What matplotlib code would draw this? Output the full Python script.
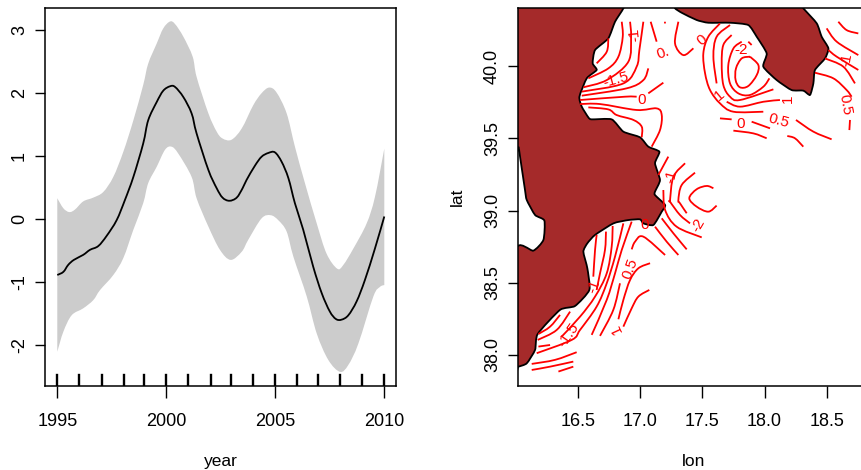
import numpy as np
import matplotlib
matplotlib.use('Agg')
import matplotlib.pyplot as plt
from matplotlib.patches import PathPatch
from matplotlib.path import Path

plt.rcParams['font.family'] = ['Liberation Sans', 'DejaVu Sans']
plt.rcParams['axes.unicode_minus'] = False

# left panel: smooth of year
line_year = [1995, 1995.28, 1995.5, 1995.76, 1996.19, 1996.5, 1996.88, 1997.26, 1997.72, 1998.1, 1998.49, 1998.94,
             1999.17, 1999.56, 1999.86, 2000.17, 2000.4, 2000.78, 2001.16, 2001.39, 2001.93, 2002.31, 2002.58, 2002.89,
             2003.23, 2003.5, 2003.68, 2004.07, 2004.37, 2004.68, 2004.98, 2005.29, 2005.6, 2005.9, 2006.28, 2006.74,
             2007.13, 2007.5, 2007.78, 2008.04, 2008.35, 2008.73, 2009.11, 2009.57, 2010]
line_val = [-0.89, -0.84, -0.73, -0.65, -0.57, -0.49, -0.43, -0.27, -0.02, 0.30, 0.67, 1.20,
            1.57, 1.86, 2.04, 2.11, 2.10, 1.94, 1.68, 1.36, 0.78, 0.49, 0.34, 0.29,
            0.34, 0.49, 0.62, 0.85, 0.99, 1.05, 1.06, 0.91, 0.65, 0.25, -0.17, -0.76,
            -1.18, -1.47, -1.59, -1.60, -1.53, -1.31, -0.97, -0.47, 0.04]
upper_year = [1995, 1995.28, 1995.55, 1995.81, 1996.19, 1996.65, 1997.11, 1997.57, 1998.03, 1998.49, 1998.94, 1999.17,
              1999.56, 1999.86, 2000.17, 2000.4, 2000.78, 2001.21, 2001.39, 2001.93, 2002.31, 2002.58, 2002.99, 2003.46,
              2003.99, 2004.37, 2004.72, 2005.06, 2005.52, 2005.9, 2006.36, 2006.9, 2007.35, 2007.84, 2008.12, 2008.58,
              2009.19, 2009.57, 2010]
upper_val = [0.33, 0.17, 0.11, 0.15, 0.28, 0.34, 0.43, 0.67, 1.07, 1.57, 2.13, 2.47,
             2.79, 3.03, 3.14, 3.10, 2.90, 2.58, 2.26, 1.68, 1.39, 1.28, 1.26, 1.44,
             1.81, 2.00, 2.09, 2.01, 1.68, 1.15, 0.57, -0.07, -0.55, -0.79, -0.73, -0.47,
             -0.07, 0.35, 1.12]
lower_year = [1995, 1995.28, 1995.66, 1996.19, 1996.65, 1996.96, 1997.57, 1998.03, 1998.49, 1998.94, 1999.17, 1999.56,
              1999.94, 2000.24, 2000.55, 2001.16, 2001.39, 2001.93, 2002.46, 2002.95, 2003.46, 2003.76, 2004.37, 2004.79,
              2005.14, 2005.52, 2005.83, 2006.44, 2006.9, 2007.43, 2007.97, 2008.35, 2008.81, 2009.5, 2009.8, 2010]
lower_val = [-2.11, -1.79, -1.53, -1.42, -1.29, -1.13, -0.89, -0.62, -0.17, 0.25, 0.57, 0.83,
             1.10, 1.15, 1.04, 0.67, 0.33, -0.12, -0.49, -0.65, -0.52, -0.33, 0.01, 0.06,
             -0.02, -0.20, -0.60, -1.23, -1.82, -2.24, -2.43, -2.32, -1.98, -1.23, -1.08, -1.05]
rug_years = [1995, 1996.01, 1997.03, 1998.06, 1998.99, 1999.98, 2001.01, 2002.03, 2002.95, 2003.99, 2005, 2006.01,
             2006.94, 2007.97, 2008.99, 2010]

# right panel: coastlines as (lon, lat)
land_west = [(16.0, 40.45), (16.863, 40.45), (16.863, 40.40), (16.796, 40.307), (16.742, 40.192), (16.635, 40.111),
             (16.616, 40.019), (16.648, 39.973), (16.568, 39.915), (16.509, 39.788), (16.528, 39.719), (16.581, 39.645),
             (16.608, 39.631), (16.769, 39.631), (16.863, 39.546), (16.997, 39.507), (17.064, 39.442), (17.153, 39.407),
             (17.118, 39.327), (17.158, 39.211), (17.118, 39.131), (17.118, 39.107), (17.199, 39.038), (17.172, 38.992),
             (17.105, 38.900), (17.024, 38.911), (16.997, 38.939), (16.903, 38.934), (16.783, 38.911), (16.635, 38.831),
             (16.573, 38.773), (16.541, 38.715), (16.573, 38.600), (16.589, 38.450), (16.474, 38.339), (16.353, 38.312),
             (16.173, 38.145), (16.152, 38.035), (16.085, 37.942), (16.018, 37.919), (16.0, 37.919), (16.0, 38.727),
             (16.138, 38.722), (16.219, 38.796), (16.227, 38.930), (16.152, 38.969), (16.085, 39.073), (16.071, 39.142),
             (16.031, 39.373), (16.018, 39.442), (16.0, 39.442)]
land_east = [(17.25, 40.45), (17.279, 40.40), (17.333, 40.369), (17.453, 40.319), (17.547, 40.300), (17.722, 40.300),
             (17.869, 40.284), (17.937, 40.203), (18.017, 40.088), (17.990, 39.996), (18.098, 39.903), (18.218, 39.834),
             (18.312, 39.830), (18.366, 39.800), (18.393, 39.880), (18.406, 39.973), (18.487, 40.053), (18.514, 40.123),
             (18.460, 40.203), (18.420, 40.296), (18.312, 40.400), (18.27, 40.45)]

# contour pieces, broken where R put its labels
contours_north = [
    [(16.742, 40.192), (16.729, 40.099), (16.648, 40.019)],
    [(16.850, 40.307), (16.858, 40.203), (16.823, 40.065), (16.742, 39.984), (16.581, 39.915)],
    [(16.917, 40.307), (16.925, 40.203), (16.903, 40.030), (16.729, 39.903), (16.541, 39.853)],
    [(17.024, 40.307), (16.992, 40.111), (16.970, 39.996), (16.863, 39.880), (16.528, 39.823)],
    [(17.083, 40.307), (17.131, 40.169)],
    [(17.064, 39.984), (17.024, 39.903), (16.890, 39.846), (16.528, 39.795)],
    [(17.185, 39.885), (17.064, 39.811)],
    [(16.970, 39.788), (16.876, 39.788), (16.514, 39.765)],
    [(16.514, 39.737), (16.675, 39.737), (16.970, 39.696), (17.131, 39.707), (17.172, 39.661), (17.158, 39.557),
     (17.091, 39.442)],
    [(16.581, 39.714), (16.742, 39.700), (16.809, 39.661), (16.944, 39.627), (17.011, 39.580), (17.011, 39.507)],
    [(17.306, 40.307), (17.279, 40.157), (17.346, 40.076), (17.427, 40.123)],
    [(17.198, 40.307), (17.198, 40.295)],
]
contours_peak = [
    [(17.883, 40.065), (17.950, 40.007), (17.937, 39.938), (17.869, 39.862), (17.802, 39.853), (17.767, 39.903),
     (17.770, 39.984), (17.816, 40.053), (17.883, 40.065)],
    [(17.816, 40.169), (17.749, 40.122), (17.708, 40.007), (17.722, 39.880), (17.789, 39.811), (17.883, 39.800),
     (17.990, 39.857), (18.039, 39.915)],
    [(17.735, 40.215), (17.668, 40.146), (17.655, 40.019), (17.668, 39.869), (17.722, 39.788), (17.802, 39.765),
     (18.071, 39.839)],
    [(17.722, 40.284), (17.614, 40.203), (17.588, 40.065), (17.614, 39.880)],
    [(17.695, 39.753), (17.802, 39.719), (17.990, 39.753), (18.124, 39.765)],
    [(17.641, 40.295), (17.547, 40.203), (17.507, 40.088), (17.521, 39.950), (17.561, 39.834), (17.641, 39.742),
     (17.749, 39.684), (17.990, 39.684)],
    [(17.641, 39.638), (17.735, 39.631)],
    [(17.896, 39.615), (18.044, 39.569)],
    [(17.749, 39.553), (17.910, 39.534), (18.017, 39.500)],
    [(18.253, 39.627), (18.393, 39.546), (18.540, 39.493)],
    [(18.183, 39.516), (18.245, 39.500), (18.312, 39.442)],
    [(17.869, 40.169), (17.896, 40.146)],
]
contours_east = [
    [(18.594, 40.307), (18.661, 40.249), (18.755, 40.226)],
    [(18.500, 40.261), (18.581, 40.169), (18.755, 40.076)],
    [(18.514, 40.111), (18.581, 40.065), (18.755, 39.973)],
    [(18.487, 40.053), (18.634, 39.996), (18.728, 39.880)],
    [(18.406, 39.954), (18.554, 39.915), (18.661, 39.834), (18.701, 39.788)],
    [(18.688, 39.627), (18.683, 39.557)],
]
contours_mid = [
    [(17.225, 39.373), (17.145, 39.246)],
    [(17.440, 39.262), (17.333, 39.177), (17.306, 39.073), (17.319, 39.050), (17.373, 38.981)],
    [(17.360, 39.327), (17.266, 39.234), (17.239, 39.073), (17.239, 39.061), (17.319, 38.969), (17.400, 38.911)],
    [(17.185, 39.142), (17.199, 39.004), (17.292, 38.888), (17.494, 38.814)],
    [(17.172, 38.946), (17.266, 38.842), (17.373, 38.731)],
    [(17.118, 38.888), (17.212, 38.784), (17.306, 38.692)],
    [(16.930, 38.731), (16.957, 38.784), (17.024, 38.819), (17.199, 38.692)],
    [(17.588, 39.154), (17.534, 39.170), (17.453, 39.147), (17.394, 39.085), (17.453, 39.027), (17.547, 38.992),
     (17.614, 39.034)],
]
contours_south = [
    [(16.648, 38.831), (16.635, 38.727), (16.621, 38.542)],
    [(16.723, 38.854), (16.715, 38.727), (16.675, 38.565), (16.648, 38.450)],
    [(16.777, 38.893), (16.769, 38.750), (16.729, 38.565), (16.635, 38.404), (16.514, 38.265), (16.366, 38.127)],
    [(16.863, 38.911), (16.796, 38.681), (16.729, 38.496), (16.648, 38.335), (16.514, 38.173), (16.447, 38.104),
     (16.165, 38.012)],
    [(16.930, 38.923), (16.850, 38.727), (16.796, 38.565), (16.729, 38.381), (16.608, 38.139)],
    [(16.836, 38.496), (16.782, 38.312), (16.675, 38.132)],
    [(17.078, 38.635), (16.984, 38.600), (16.917, 38.519), (16.863, 38.381), (16.823, 38.247)],
    [(17.072, 38.450), (16.984, 38.404), (16.930, 38.323), (16.863, 38.196)],
    [(16.353, 38.277), (16.273, 38.196), (16.179, 38.145)],
    [(16.434, 38.300), (16.326, 38.173), (16.173, 38.104)],
    [(16.273, 38.069), (16.179, 38.058)],
    [(16.487, 38.019), (16.313, 37.966), (16.125, 37.938)],
    [(16.460, 37.954), (16.273, 37.919), (16.125, 37.896)],
    [(16.460, 37.919), (16.340, 37.885)],
]
# text, lon, lat, rotation
contour_labels = [
    ('-1.5', 16.801, 39.903, 15), ('-1', 16.955, 40.215, 95), ('0.', 17.185, 40.088, 20), ('0', 17.494, 40.180, 40),
    ('0', 17.011, 39.765, 0), ('-2', 17.808, 40.111, 0), ('1', 17.641, 39.800, 40), ('1', 18.19, 39.777, 90),
    ('0', 17.808, 39.599, 0), ('0.5', 18.111, 39.622, -15), ('-1', 18.661, 40.042, 80), ('0.5', 18.648, 39.730, -80),
    ('-1', 17.252, 39.234, 75), ('0', 17.037, 38.900, 0), ('-2', 17.467, 38.900, 60), ('0.5', 16.917, 38.600, 70),
    ('1', 16.809, 38.178, 115), ('-1.5', 16.420, 38.138, 55), ('-1', 16.63, 38.473, 70),
]

W, H = 861, 470


def px_axes(fig, left, top, right, bottom):
    return fig.add_axes([left / W, 1 - bottom / H, (right - left) / W, (bottom - top) / H])


def curve_through(points, tension=1 / 6):
    """Bezier segments through the read points, so the lines are not angular."""
    p = np.asarray(points, dtype=float)
    prev_p = np.vstack([p[0], p[:-2]])
    next_p = np.vstack([p[2:], p[-1]])
    verts = [p[0]]
    codes = [Path.MOVETO]
    for a, b, before, after in zip(p[:-1], p[1:], prev_p, next_p):
        verts += [a + (b - before) * tension, b - (after - a) * tension, b]
        codes += [Path.CURVE4] * 3
    return verts, codes


def style_axes(ax):
    for s in ax.spines.values():
        s.set_linewidth(1.1)
    ax.tick_params(axis='x', length=8.6, width=1.0, labelsize=13, pad=11)
    ax.tick_params(axis='y', length=7.4, width=1.0, labelsize=13, pad=5)
    for t in ax.get_yticklabels():
        t.set_rotation(90)
        t.set_va('center')


fig = plt.figure(figsize=(W / 100, H / 100), dpi=100)

ax1 = px_axes(fig, 45.3, 8.3, 396.3, 386)
ax1.set_xlim(1994.45, 2010.55)
ax1.set_ylim(-2.655, 3.35)
up_v, up_c = curve_through(list(zip(upper_year, upper_val)))
lo_v, lo_c = curve_through(list(zip(lower_year[::-1], lower_val[::-1])))
lo_c[0] = Path.LINETO
ax1.add_patch(PathPatch(Path(up_v + lo_v + [up_v[0]], up_c + lo_c + [Path.LINETO]), facecolor='#cccccc', lw=0))
v, c = curve_through(list(zip(line_year, line_val)))
ax1.add_patch(PathPatch(Path(v, c), fill=False, edgecolor='black', lw=1.3))
ax1.plot(np.repeat(rug_years, 3), np.tile([0, 0.03, np.nan], len(rug_years)), color='black', lw=1.7,
         transform=ax1.get_xaxis_transform())
ax1.set_xticks([1995, 2000, 2005, 2010])
ax1.set_yticks([-2, -1, 0, 1, 2, 3])
ax1.set_xlabel('year', fontsize=12.5, labelpad=17)
style_axes(ax1)

ax2 = px_axes(fig, 518.3, 8.3, 868, 386)
ax2.set_xlim(16.017, 18.833)
ax2.set_ylim(37.785, 40.40)
for land in [land_west, land_east]:
    v, c = curve_through(land + [land[0]], tension=1 / 10)
    ax2.add_patch(PathPatch(Path(v, c), facecolor='brown', edgecolor='black', lw=1.3))
for group in [contours_north, contours_peak, contours_east, contours_mid, contours_south]:
    for piece in group:
        v, c = curve_through(piece)
        ax2.add_patch(PathPatch(Path(v, c), fill=False, edgecolor='red', lw=1.3))
for txt, lon, lat, rot in contour_labels:
    ax2.text(lon, lat, txt, color='red', fontsize=11, rotation=rot, ha='center', va='center', clip_on=True)
ax2.set_xticks([16.5, 17, 17.5, 18, 18.5])
ax2.set_xticklabels(['16.5', '17.0', '17.5', '18.0', '18.5'])
ax2.set_yticks([38, 38.5, 39, 39.5, 40])
ax2.set_yticklabels(['38.0', '38.5', '39.0', '39.5', '40.0'])
ax2.set_xlabel('lon', fontsize=12.5, labelpad=17)
ax2.set_ylabel('lat', fontsize=12.5, labelpad=14)
style_axes(ax2)

fig.savefig('out.png', dpi=100)
